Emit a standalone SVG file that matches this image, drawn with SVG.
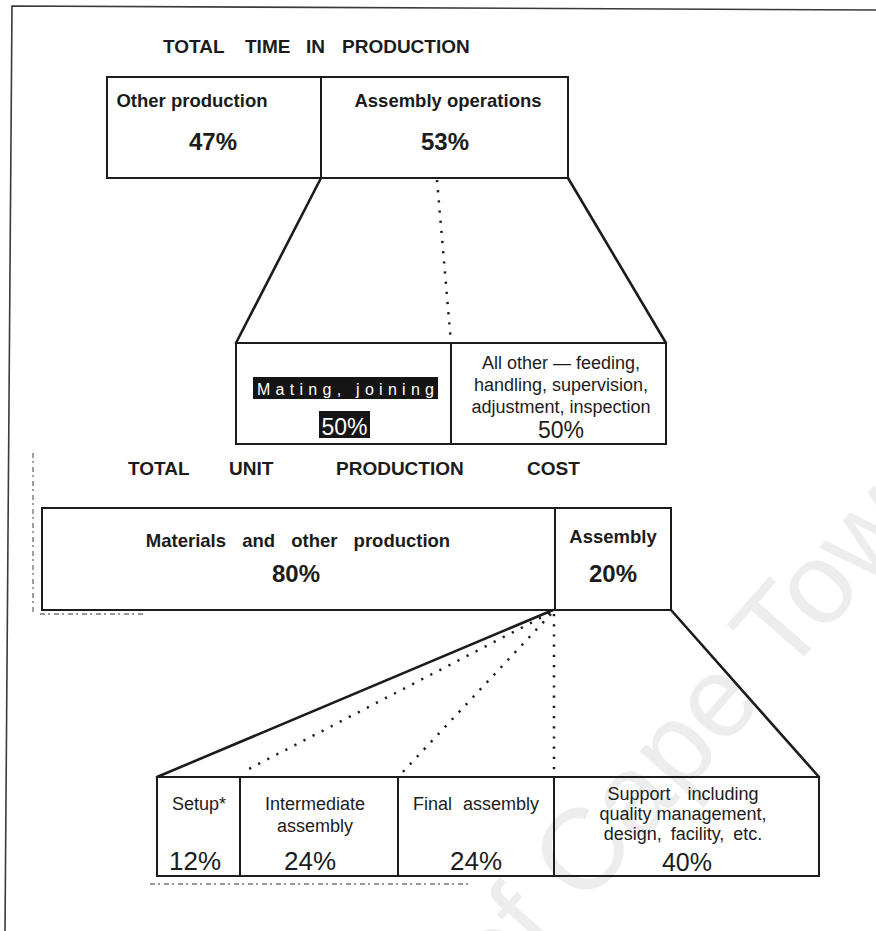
<svg xmlns="http://www.w3.org/2000/svg" width="876" height="931" viewBox="0 0 876 931">
  <style>
    .box{fill:none;stroke:#1c1c1c;stroke-width:2}
    .solid{fill:none;stroke:#1c1c1c;stroke-width:2.6;stroke-linecap:round}
    .dot{fill:none;stroke:#1c1c1c;stroke-width:2.5;stroke-dasharray:2.2 8}
    .edge{fill:none;stroke:#3a3a3a;stroke-width:1.6}
    .scan{fill:none;stroke:#777;stroke-width:1.4;stroke-dasharray:5 3 2 4}
    .hd{font-family:"Liberation Sans",Arial,sans-serif;font-weight:bold;font-size:19px;fill:#1c1c1c}
    .lb{font-family:"Liberation Sans",Arial,sans-serif;font-weight:bold;font-size:18.5px;fill:#1c1c1c;text-anchor:middle}
    .pb{font-family:"Liberation Sans",Arial,sans-serif;font-weight:bold;font-size:24px;fill:#1c1c1c;text-anchor:middle}
    .tx{font-family:"Liberation Sans",Arial,sans-serif;font-size:18px;fill:#1c1c1c;text-anchor:middle}
    .pr{font-family:"Liberation Sans",Arial,sans-serif;font-size:26px;fill:#1c1c1c;text-anchor:middle}
    .inv{font-family:"Liberation Sans",Arial,sans-serif;font-size:16px;fill:#ffffff}
    .wm{font-family:"Liberation Sans",Arial,sans-serif;font-size:115px;fill:#ededed}
  </style>

  <rect width="876" height="931" fill="#ffffff"/>

  <!-- faint diagonal watermark behind the chart -->
  <text class="wm" x="499" y="1004" transform="rotate(-48.7 499 1004)">of Cape Town</text>

  <!-- page frame and stray print marks -->
  <polyline class="edge" points="5,931 12,6 876,10"/>
  <path class="scan" d="M33,453 V612 M40,614 H146 M150,884 H468"/>

  <!-- headings -->
  <g id="heading-time">
    <text class="hd" x="163" y="53">TOTAL</text>
    <text class="hd" x="245" y="53">TIME</text>
    <text class="hd" x="306" y="53">IN</text>
    <text class="hd" x="342" y="53">PRODUCTION</text>
  </g>
  <g id="heading-cost">
    <text class="hd" x="128" y="475">TOTAL</text>
    <text class="hd" x="229" y="475">UNIT</text>
    <text class="hd" x="336" y="475">PRODUCTION</text>
    <text class="hd" x="527" y="475">COST</text>
  </g>

  <!-- connectors: fan-outs from each split box -->
  <g id="connectors">
    <line class="solid" x1="321" y1="178" x2="236" y2="343"/>
    <line class="solid" x1="568" y1="178" x2="666" y2="343"/>
    <line class="dot" x1="437" y1="180" x2="451" y2="343"/>

    <line class="solid" x1="553" y1="610" x2="157" y2="777"/>
    <line class="solid" x1="671" y1="610" x2="819" y2="777"/>
    <line class="dot" x1="550" y1="613" x2="243" y2="772"/>
    <line class="dot" x1="551" y1="614" x2="400" y2="775"/>
    <line class="dot" x1="554" y1="614" x2="554" y2="777"/>
  </g>

  <!-- total time in production -->
  <g id="other-production">
    <rect class="box" x="107" y="77" width="214" height="101"/>
    <text class="lb" x="192" y="107">Other production</text>
    <text class="pb" x="213" y="150">47%</text>
  </g>
  <g id="assembly-operations">
    <rect class="box" x="321" y="77" width="247" height="101"/>
    <text class="lb" x="448" y="107">Assembly operations</text>
    <text class="pb" x="445" y="150">53%</text>
  </g>

  <!-- breakdown of assembly operations -->
  <g id="mating-joining">
    <rect class="box" x="236" y="343" width="215" height="101"/>
    <rect x="253" y="377" width="185" height="22" fill="#151515"/>
    <text class="inv" x="257" y="394.5" textLength="177" lengthAdjust="spacing">Mating, joining</text>
    <rect x="319" y="411" width="51" height="27" fill="#151515"/>
    <text class="pr" x="344.5" y="435" style="font-size:23px;fill:#ffffff">50%</text>
  </g>
  <g id="all-other">
    <rect class="box" x="451" y="343" width="215" height="101"/>
    <text class="tx" x="561" y="369">All other — feeding,</text>
    <text class="tx" x="561" y="391">handling, supervision,</text>
    <text class="tx" x="561" y="413">adjustment, inspection</text>
    <text class="pr" x="561" y="438" style="font-size:23px">50%</text>
  </g>

  <!-- total unit production cost -->
  <g id="materials">
    <rect class="box" x="42" y="508" width="513" height="102"/>
    <text class="lb" x="298" y="547" style="word-spacing:11px">Materials and other production</text>
    <text class="pb" x="296" y="582">80%</text>
  </g>
  <g id="assembly">
    <rect class="box" x="555" y="508" width="116" height="102"/>
    <text class="lb" x="613" y="543">Assembly</text>
    <text class="pb" x="613" y="582">20%</text>
  </g>

  <!-- breakdown of assembly cost -->
  <g id="setup">
    <rect class="box" x="157" y="777" width="83" height="99"/>
    <text class="tx" x="199" y="810">Setup*</text>
    <text class="pr" x="195" y="870">12%</text>
  </g>
  <g id="intermediate-assembly">
    <rect class="box" x="240" y="777" width="158" height="99"/>
    <text class="tx" x="315" y="810">Intermediate</text>
    <text class="tx" x="315" y="832">assembly</text>
    <text class="pr" x="310" y="870">24%</text>
  </g>
  <g id="final-assembly">
    <rect class="box" x="398" y="777" width="156" height="99"/>
    <text class="tx" x="476" y="810" style="word-spacing:6px">Final assembly</text>
    <text class="pr" x="476" y="870">24%</text>
  </g>
  <g id="support">
    <rect class="box" x="554" y="777" width="265" height="99"/>
    <text class="tx" x="683" y="800" style="word-spacing:12px">Support including</text>
    <text class="tx" x="683" y="820">quality management,</text>
    <text class="tx" x="683" y="840" style="word-spacing:4px">design, facility, etc.</text>
    <text class="pr" x="687" y="871" style="font-size:25px">40%</text>
  </g>
</svg>
